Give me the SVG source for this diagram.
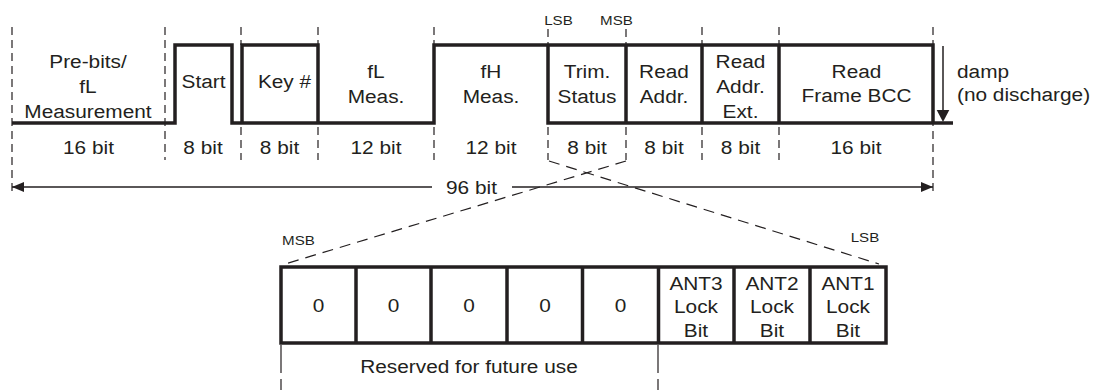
<svg xmlns="http://www.w3.org/2000/svg" width="1095" height="390" viewBox="0 0 1095 390">
<style>
text{font-family:"Liberation Sans",Arial,sans-serif;font-size:18.6px;fill:#231f20;text-anchor:middle}
.sm{font-size:13.5px}
.st{text-anchor:start}
.w{fill:none;stroke:#231f20;stroke-width:3.5;stroke-linejoin:miter}
.d{fill:none;stroke:#231f20;stroke-width:1.2;stroke-dasharray:8 5}
.dg{fill:none;stroke:#231f20;stroke-width:1.2;stroke-dasharray:11 7}
.dr{fill:none;stroke:#231f20;stroke-width:1.2;stroke-dasharray:28 6}
.ln{fill:none;stroke:#231f20;stroke-width:1.5}
</style>
<defs>
<marker id="ah" markerWidth="12" markerHeight="10" refX="12" refY="5" orient="auto" markerUnits="userSpaceOnUse">
<path d="M0,0 L12,5 L0,10 Z" fill="#231f20"/>
</marker>
</defs>
<rect width="1095" height="390" fill="#fff"/>

<g id="connectors">
<path class="d" d="M12,27 V195"/>
<path class="d" d="M165,27 V160"/>
<path class="d" d="M241,27 V45 M241,127 V160"/>
<path class="d" d="M318,27 V45 M318,127 V160"/>
<path class="d" d="M434,27 V45 M434,127 V160"/>
<path class="d" d="M548,29 V45 M548,127 V160"/>
<path class="d" d="M626,29 V45 M626,127 V160"/>
<path class="d" d="M702,27 V45 M702,127 V160"/>
<path class="d" d="M779,27 V45 M779,127 V160"/>
<path class="d" d="M933,27 V195"/>
<path class="ln" d="M432,187 H12" marker-end="url(#ah)"/>
<path class="ln" d="M512,187 H933" marker-end="url(#ah)"/>
<path class="dg" d="M549,161 L879,264"/>
<path class="dg" d="M626,161 L285,264"/>
<path class="dr" d="M281,345 V390"/>
<path class="dr" d="M658,345 V390"/>
<path class="ln" d="M943,46 V112"/>
<path d="M936.7,110 L949.3,110 L943,122 Z" fill="#231f20"/>
</g>

<g id="waveform">
<path class="w" d="M12,123 H175 V45 H232 V123 H434 V45 H933 V123"/>
<path class="w" d="M242,123 V45 H318 V123"/>
<path class="w" d="M548,45 V123 H953"/>
<path class="w" d="M626,45 V123 M702,45 V123 M779,45 V123"/>
</g>

<g id="prebits">
<text transform="translate(88,0) scale(1.12,1)" y="68">Pre-bits/</text>
<text transform="translate(88,0) scale(1.12,1)" y="93">fL</text>
<text transform="translate(88,0) scale(1.12,1)" y="118">Measurement</text>
<text transform="translate(88.5,0) scale(1.12,1)" y="154.5">16 bit</text>
</g>
<g id="start">
<text transform="translate(203.5,0) scale(1.12,1)" y="88.5">Start</text>
<text transform="translate(203,0) scale(1.12,1)" y="154.5">8 bit</text>
</g>
<g id="key">
<text transform="translate(284.5,0) scale(1.12,1)" y="88.5">Key #</text>
<text transform="translate(279.5,0) scale(1.12,1)" y="154.5">8 bit</text>
</g>
<g id="flmeas">
<text transform="translate(376,0) scale(1.12,1)" y="78">fL</text>
<text transform="translate(376,0) scale(1.12,1)" y="103">Meas.</text>
<text transform="translate(376,0) scale(1.12,1)" y="154.5">12 bit</text>
</g>
<g id="fhmeas">
<text transform="translate(491,0) scale(1.12,1)" y="78">fH</text>
<text transform="translate(491,0) scale(1.12,1)" y="103">Meas.</text>
<text transform="translate(491,0) scale(1.12,1)" y="154.5">12 bit</text>
</g>
<g id="trim">
<text class="sm" transform="translate(558.5,0) scale(1.12,1)" y="25">LSB</text>
<text class="sm" transform="translate(616.5,0) scale(1.12,1)" y="25">MSB</text>
<text transform="translate(587,0) scale(1.12,1)" y="78">Trim.</text>
<text transform="translate(587,0) scale(1.12,1)" y="103">Status</text>
<text transform="translate(587,0) scale(1.12,1)" y="154.5">8 bit</text>
</g>
<g id="readaddr">
<text transform="translate(664,0) scale(1.12,1)" y="78">Read</text>
<text transform="translate(664,0) scale(1.12,1)" y="103">Addr.</text>
<text transform="translate(664,0) scale(1.12,1)" y="154.5">8 bit</text>
</g>
<g id="readaddrext">
<text transform="translate(740.5,0) scale(1.12,1)" y="68">Read</text>
<text transform="translate(740.5,0) scale(1.12,1)" y="93">Addr.</text>
<text transform="translate(740.5,0) scale(1.12,1)" y="118">Ext.</text>
<text transform="translate(740.5,0) scale(1.12,1)" y="154.5">8 bit</text>
</g>
<g id="bcc">
<text transform="translate(856.5,0) scale(1.12,1)" y="78">Read</text>
<text transform="translate(856.5,0) scale(1.12,1)" y="102">Frame BCC</text>
<text transform="translate(856,0) scale(1.12,1)" y="154.5">16 bit</text>
</g>
<g id="damp">
<text class="st" transform="translate(957,0) scale(1.12,1)" y="78">damp</text>
<text class="st" transform="translate(957,0) scale(1.12,1)" y="101">(no discharge)</text>
</g>
<g id="total">
<text transform="translate(471.5,0) scale(1.12,1)" y="194">96 bit</text>
</g>

<g id="register">
<text class="sm" transform="translate(298.5,0) scale(1.12,1)" y="245">MSB</text>
<text class="sm" transform="translate(865,0) scale(1.12,1)" y="242.5">LSB</text>
<rect x="281" y="267" width="605" height="76" class="w"/>
<path class="w" d="M356,267 V343 M431,267 V343 M507,267 V343 M582.5,267 V343 M658.5,267 V343 M734,267 V343 M810,267 V343"/>
<text transform="translate(318.5,0) scale(1.12,1)" y="312">0</text>
<text transform="translate(393.5,0) scale(1.12,1)" y="312">0</text>
<text transform="translate(469,0) scale(1.12,1)" y="312">0</text>
<text transform="translate(545,0) scale(1.12,1)" y="312">0</text>
<text transform="translate(620.5,0) scale(1.12,1)" y="312">0</text>
<text transform="translate(696,0) scale(1.12,1)" y="290">ANT3</text>
<text transform="translate(696,0) scale(1.12,1)" y="313.5">Lock</text>
<text transform="translate(696,0) scale(1.12,1)" y="337">Bit</text>
<text transform="translate(772,0) scale(1.12,1)" y="290">ANT2</text>
<text transform="translate(772,0) scale(1.12,1)" y="313.5">Lock</text>
<text transform="translate(772,0) scale(1.12,1)" y="337">Bit</text>
<text transform="translate(848,0) scale(1.12,1)" y="290">ANT1</text>
<text transform="translate(848,0) scale(1.12,1)" y="313.5">Lock</text>
<text transform="translate(848,0) scale(1.12,1)" y="337">Bit</text>
<text transform="translate(469,0) scale(1.12,1)" y="373">Reserved for future use</text>
</g>
</svg>
